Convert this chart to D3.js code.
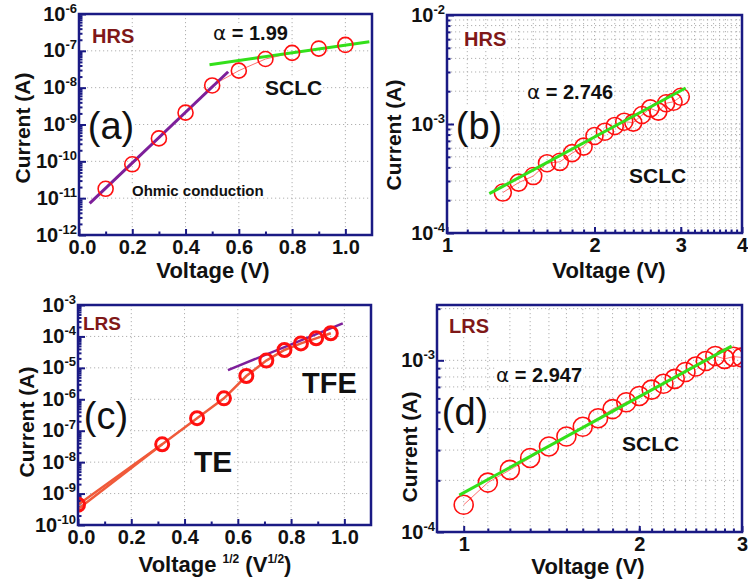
<!DOCTYPE html>
<html>
<head>
<meta charset="utf-8">
<script src="https://cdn.jsdelivr.net/npm/d3@7"></script>
<style>
  body { margin: 0; background: #fff; }
  svg { font-family: "Liberation Sans", Arial, sans-serif; }
  .grid { stroke: #b0b0b0; stroke-width: 1; stroke-dasharray: 1.2,2.8; }
  .axis path { display: none; }
  .axis line { stroke: #1a1a84; stroke-width: 2; }
  .axis text { font-size: 20px; font-weight: bold; fill: #111; }
  .frame { fill: none; stroke: #1a1a84; stroke-width: 2.5; }
  .title { font-size: 21px; font-weight: bold; fill: #111; }
  .xtitle { font-size: 22px; }
  .note { font-weight: bold; fill: #111; }
  .state { font-weight: bold; fill: #7f1818; font-size: 20px; }
  .letter { font-size: 38px; fill: #111; }
</style>
</head>
<body>
<svg width="748" height="586"></svg>
<script>
// (a) HRS, Ohmic -> SCLC
var aVolt = [0.1, 0.2, 0.3, 0.4, 0.5, 0.6, 0.7, 0.8, 0.9, 1.0];
var aCurr = [1.8e-11, 8.3e-11, 4.2e-10, 2.1e-9, 1.15e-8, 2.9e-8, 6.0e-8, 8.8e-8, 1.15e-7, 1.45e-7];
var aOhmFitV = [0.04, 0.56];
var aOhmFitI = [7.2e-12, 2.7e-8];
var aSclcFitV = [0.49, 1.09];
var aSclcFitI = [4.2e-8, 1.77e-7];

// (b) HRS, SCLC at higher bias
var bVolt = [1.3, 1.4, 1.5, 1.6, 1.7, 1.8, 1.9, 2.0, 2.1, 2.2, 2.3, 2.4, 2.5, 2.6, 2.7, 2.8, 2.9, 3.0];
var bCurr = [2.35e-4, 2.9e-4, 3.33e-4, 4.37e-4, 4.5e-4, 5.4e-4, 6.2e-4, 7.76e-4, 8.5e-4, 9.6e-4,
             1.05e-3, 1.03e-3, 1.21e-3, 1.39e-3, 1.3e-3, 1.55e-3, 1.6e-3, 1.78e-3];
var bFitV = [1.22, 3.07];
var bFitI = [2.3e-4, 2.14e-3];

// (c) LRS vs sqrt(V)
var cSqrtV = [0.0, 0.316, 0.447, 0.548, 0.632, 0.707, 0.775, 0.837, 0.894, 0.949];
var cCurr = [4.4e-10, 3.7e-8, 2.5e-7, 1.07e-6, 5.5e-6, 1.7e-5, 3.7e-5, 6.0e-5, 8.7e-5, 1.26e-4];
var cTeFitV = [0.0, 0.316];
var cTeFitI = [3.2e-10, 3.7e-8];
var cTfeFitV = [0.563, 0.994];
var cTfeFitI = [8.5e-6, 2.6e-4];

// (d) LRS, SCLC
var dVolt = [1.0, 1.1, 1.2, 1.3, 1.4, 1.5, 1.6, 1.7, 1.8, 1.9, 2.0, 2.1, 2.2, 2.3, 2.4, 2.5, 2.6, 2.7, 2.8, 2.9, 3.0];
var dCurr = [1.44e-4, 1.94e-4, 2.3e-4, 2.7e-4, 3.15e-4, 3.6e-4, 4.1e-4, 4.6e-4, 5.2e-4, 5.7e-4, 6.2e-4,
             6.75e-4, 7.3e-4, 7.8e-4, 8.55e-4, 9.2e-4, 9.9e-4, 1.06e-3, 1.02e-3, 1.05e-3, 1.04e-3];
var dFitV = [0.983, 2.88];
var dFitI = [1.64e-4, 1.21e-3];

// tick values
var linMajor = [0.0, 0.2, 0.4, 0.6, 0.8, 1.0];
var linMinor = [0.1, 0.3, 0.5, 0.7, 0.9];
var bXMajor = [1, 2, 3, 4];
var dXMajor = [1, 2, 3];

var svg = d3.select("svg");

// 2..9 times each decade
function minorsOf(lo, hi) {
    var out = [];
    for (var e = lo; e < hi; e++) {
        for (var m = 2; m <= 9; m++) out.push(m * Math.pow(10, e));
    }
    return out;
}
function stepsOf(a, b) {
    var out = [];
    for (var v = a; v <= b + 1e-9; v += 0.1) out.push(Math.round(v * 10) / 10);
    return out;
}

function addLabel(g, x, y, parts, cls, size, anchor) {
    var t = g.append("text").attr("x", x).attr("y", y).attr("class", cls)
        .attr("text-anchor", anchor || "start");
    if (size) t.style("font-size", size + "px");
    parts.forEach(function(p) {
        var s = t.append("tspan").text(p.t);
        if (p.f) s.style("font-family", p.f);
        if (p.w) s.style("font-weight", p.w);
        if (p.dy) s.attr("dy", p.dy);
        if (p.s) s.style("font-size", p.s + "px");
    });
    // white box behind the text hides the grid, like the original
    var bb = t.node().getBBox();
    g.insert("rect", function() { return t.node(); })
        .attr("x", bb.x - 1).attr("y", bb.y + 2)
        .attr("width", bb.width + 2).attr("height", bb.height - 4)
        .attr("fill", "#fff");
    return t;
}

function drawPanel(p) {
    var g = svg.append("g");
    var x = (p.xLog ? d3.scaleLog() : d3.scaleLinear()).domain(p.xDomain).range([p.left, p.right]);
    var y = d3.scaleLog().domain(p.yDomain).range([p.bottom, p.top]);
    var id = "clip" + p.name;

    g.append("clipPath").attr("id", id).append("rect")
        .attr("x", p.left).attr("y", p.top)
        .attr("width", p.right - p.left).attr("height", p.bottom - p.top);

    // dotted grid
    g.append("g").selectAll("line").data(p.xGrid).join("line")
        .attr("class", "grid")
        .attr("x1", function(d) { return x(d); }).attr("x2", function(d) { return x(d); })
        .attr("y1", p.top).attr("y2", p.bottom);
    g.append("g").selectAll("line").data(p.yGrid).join("line")
        .attr("class", "grid")
        .attr("y1", function(d) { return y(d); }).attr("y2", function(d) { return y(d); })
        .attr("x1", p.left).attr("x2", p.right);

    var notes = g.append("g");
    p.labels.forEach(function(l) { addLabel(notes, l.x, l.y, l.parts, l.cls, l.size, l.anchor); });

    // axes, ticks pointing in
    g.append("g").attr("class", "axis").attr("transform", "translate(0," + p.bottom + ")")
        .call(d3.axisBottom(x).tickValues(p.xMinor).tickSize(-3.5).tickFormat(""));
    var xa = g.append("g").attr("class", "axis").attr("transform", "translate(0," + p.bottom + ")")
        .call(d3.axisBottom(x).tickValues(p.xMajor).tickSize(-6).tickPadding(5).tickFormat(p.xFormat));
    // first label on a linear axis sits a bit right of its tick so it clears the 10^n label
    if (!p.xLog) xa.select(".tick text").attr("x", 3);
    g.append("g").attr("class", "axis").attr("transform", "translate(" + p.left + ",0)")
        .call(d3.axisLeft(y).tickValues(p.yMinor).tickSize(-3.5).tickFormat(""));
    var ya = g.append("g").attr("class", "axis").attr("transform", "translate(" + p.left + ",0)")
        .call(d3.axisLeft(y).tickValues(p.yMajor).tickSize(-7).tickPadding(2).tickFormat(""));
    ya.selectAll(".tick text").each(function(d) {
        var t = d3.select(this).attr("dy", "0.3em");
        t.append("tspan").text("10");
        t.append("tspan").attr("dy", -8).style("font-size", "13px").text(Math.round(Math.log10(d)));
    });

    var plot = g.append("g").attr("clip-path", "url(#" + id + ")");
    var line = d3.line().x(function(d) { return x(d[0]); }).y(function(d) { return y(d[1]); });

    plot.append("path").datum(d3.zip(p.xs, p.ys)).attr("d", line)
        .attr("fill", "none").attr("stroke", p.lineColor || "#ff7070").attr("stroke-width", p.lineWidth || 1);
    p.fits.forEach(function(f) {
        plot.append("path").datum(d3.zip(f.xs, f.ys)).attr("d", line)
            .attr("fill", "none").attr("stroke", f.color).attr("stroke-width", f.width || 3);
    });
    plot.append("g").selectAll("circle").data(d3.zip(p.xs, p.ys)).join("circle")
        .attr("cx", function(d) { return x(d[0]); })
        .attr("cy", function(d) { return y(d[1]); })
        .attr("r", p.r).attr("fill", "none").attr("stroke", "#ff1010").attr("stroke-width", p.sw);
    if (p.fitsOnTop) {
        p.fitsOnTop.forEach(function(f) {
            plot.append("path").datum(d3.zip(f.xs, f.ys)).attr("d", line)
                .attr("fill", "none").attr("stroke", f.color).attr("stroke-width", f.width || 3);
        });
    }

    g.append("rect").attr("class", "frame")
        .attr("x", p.left).attr("y", p.top)
        .attr("width", p.right - p.left).attr("height", p.bottom - p.top);

    // axis titles
    g.append("text").attr("class", "title").attr("text-anchor", "middle")
        .attr("transform", "translate(" + p.yTitle[0] + "," + p.yTitle[1] + ") rotate(-90)")
        .text("Current (A)");
    var xt = g.append("text").attr("class", "title xtitle").attr("text-anchor", "middle")
        .attr("x", p.xTitle[0]).attr("y", p.xTitle[1]);
    p.xTitleParts.forEach(function(pt) {
        var s = xt.append("tspan").text(pt.t);
        if (pt.dy) s.attr("dy", pt.dy);
        if (pt.s) s.style("font-size", pt.s + "px");
    });
}

var fmtLin = d3.format(".1f");
var fmtInt = d3.format("d");
var alpha = function(v) {
    return [{t: "\u03b1", f: "DejaVu Sans", w: "normal"}, {t: " = " + v}];
};
var voltParts = [{t: "Voltage (V)"}];

drawPanel({
    name: "a", left: 79, right: 372, top: 14, bottom: 235,
    xDomain: [0, 1.1], yDomain: [1e-12, 1e-6],
    xMajor: linMajor, xMinor: linMinor, xFormat: fmtLin,
    yMajor: [1e-12, 1e-11, 1e-10, 1e-9, 1e-8, 1e-7, 1e-6], yMinor: minorsOf(-12, -6),
    xGrid: [0.2, 0.4, 0.6, 0.8, 1.0], yGrid: [1e-11, 1e-10, 1e-9, 1e-8, 1e-7],
    xs: aVolt, ys: aCurr, r: 7.5, sw: 1.6,
    fits: [{xs: aOhmFitV, ys: aOhmFitI, color: "#7d1f9a"}, {xs: aSclcFitV, ys: aSclcFitI, color: "#33e01a"}],
    yTitle: [30, 128], xTitle: [213, 278], xTitleParts: voltParts,
    labels: [
        {x: 92, y: 43, parts: [{t: "HRS"}], cls: "state"},
        {x: 213, y: 40, parts: alpha("1.99"), cls: "note", size: 20},
        {x: 265, y: 95, parts: [{t: "SCLC"}], cls: "note", size: 21},
        {x: 132, y: 196, parts: [{t: "Ohmic conduction"}], cls: "note", size: 15},
        {x: 111, y: 139, parts: [{t: "(a)"}], cls: "letter", anchor: "middle"}
    ]
});

drawPanel({
    name: "b", xLog: true, left: 447, right: 742, top: 15, bottom: 233,
    xDomain: [1, 4], yDomain: [1e-4, 1e-2],
    xMajor: bXMajor, xMinor: stepsOf(1.1, 3.9), xFormat: fmtInt,
    yMajor: [1e-4, 1e-3, 1e-2], yMinor: minorsOf(-4, -2),
    xGrid: stepsOf(1.1, 3.9), yGrid: minorsOf(-4, -2).concat([1e-3]),
    xs: bVolt, ys: bCurr, r: 8.5, sw: 1.6,
    fits: [], fitsOnTop: [{xs: bFitV, ys: bFitI, color: "#33e01a"}],
    yTitle: [401, 135], xTitle: [609, 278], xTitleParts: voltParts,
    labels: [
        {x: 464, y: 46, parts: [{t: "HRS"}], cls: "state"},
        {x: 527, y: 99, parts: alpha("2.746"), cls: "note", size: 20},
        {x: 629, y: 183, parts: [{t: "SCLC"}], cls: "note", size: 21},
        {x: 479, y: 139, parts: [{t: "(b)"}], cls: "letter", anchor: "middle"}
    ]
});

drawPanel({
    name: "c", left: 78, right: 371, top: 305, bottom: 525,
    xDomain: [0, 1.1], yDomain: [1e-10, 1e-3],
    xMajor: linMajor, xMinor: linMinor, xFormat: fmtLin,
    yMajor: [1e-10, 1e-9, 1e-8, 1e-7, 1e-6, 1e-5, 1e-4, 1e-3], yMinor: minorsOf(-10, -3),
    xGrid: [0.2, 0.4, 0.6, 0.8, 1.0], yGrid: [1e-9, 1e-8, 1e-7, 1e-6, 1e-5, 1e-4],
    xs: cSqrtV, ys: cCurr, r: 6.5, sw: 3, lineColor: "#f05a3a", lineWidth: 2.5,
    fits: [{xs: cTeFitV, ys: cTeFitI, color: "#f05a3a", width: 2.5}, {xs: cTfeFitV, ys: cTfeFitI, color: "#7d1f9a", width: 2.5}],
    yTitle: [34, 422], xTitle: [215, 572],
    xTitleParts: [{t: "Voltage "}, {t: "1/2", dy: -9, s: 12}, {t: " (V", dy: 9}, {t: "1/2", dy: -9, s: 12}, {t: ")", dy: 9}],
    labels: [
        {x: 83, y: 330, parts: [{t: "LRS"}], cls: "state", size: 19},
        {x: 302, y: 393, parts: [{t: "TFE"}], cls: "note", size: 29},
        {x: 194, y: 472, parts: [{t: "TE"}], cls: "note", size: 30},
        {x: 106, y: 429, parts: [{t: "(c)"}], cls: "letter", anchor: "middle"}
    ]
});

drawPanel({
    name: "d", xLog: true, left: 437, right: 742, top: 305, bottom: 532,
    xDomain: [0.9, 3], yDomain: [1e-4, 2.1e-3],
    xMajor: dXMajor, xMinor: stepsOf(1.1, 2.9), xFormat: fmtInt,
    yMajor: [1e-4, 1e-3], yMinor: minorsOf(-4, -3).concat([2e-3]),
    xGrid: stepsOf(1.0, 2.9), yGrid: minorsOf(-4, -3).concat([1e-3, 2e-3]),
    xs: dVolt, ys: dCurr, r: 9.5, sw: 1.6,
    fits: [], fitsOnTop: [{xs: dFitV, ys: dFitI, color: "#33e01a"}],
    yTitle: [417, 447], xTitle: [588, 574], xTitleParts: voltParts,
    labels: [
        {x: 449, y: 333, parts: [{t: "LRS"}], cls: "state", size: 20},
        {x: 496, y: 382, parts: alpha("2.947"), cls: "note", size: 20},
        {x: 622, y: 451, parts: [{t: "SCLC"}], cls: "note", size: 21},
        {x: 465, y: 425, parts: [{t: "(d)"}], cls: "letter", anchor: "middle"}
    ]
});
</script>
</body>
</html>
